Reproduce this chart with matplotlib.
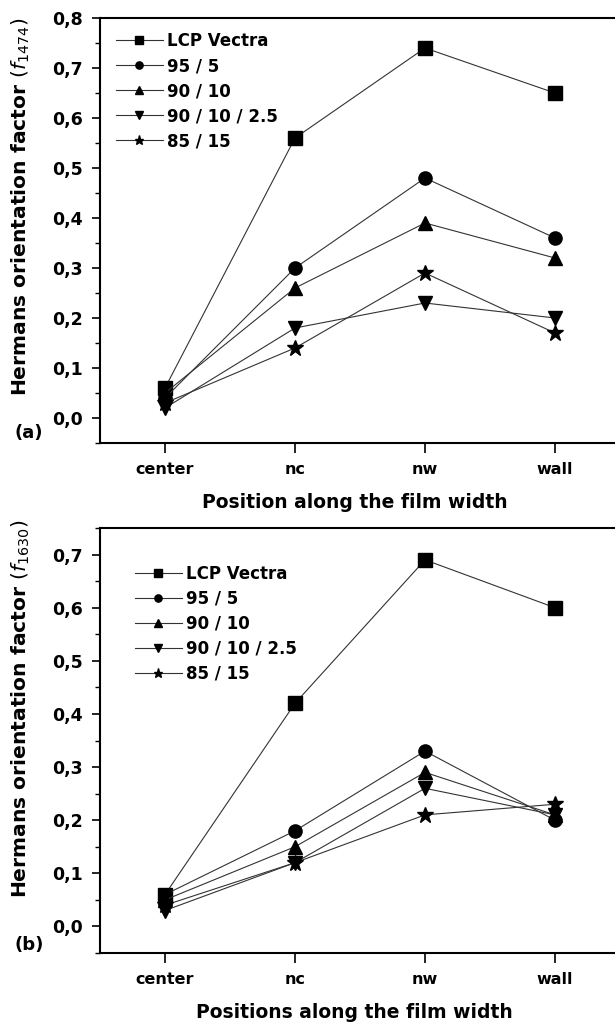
import matplotlib
matplotlib.use("Agg")
import matplotlib.pyplot as plt
from matplotlib.ticker import MultipleLocator, FuncFormatter

plt.rcParams['font.family'] = ['DejaVu Sans']
plt.rcParams['mathtext.fontset'] = 'dejavusans'

positions = ["center", "nc", "nw", "wall"]
series_names = ["LCP Vectra", "95 / 5", "90 / 10", "90 / 10 / 2.5", "85 / 15"]
markers = ["s", "o", "^", "v", "*"]

# Panel (a): f1474
a_lcp = [0.06, 0.56, 0.74, 0.65]
a_95_5 = [0.04, 0.30, 0.48, 0.36]
a_90_10 = [0.05, 0.26, 0.39, 0.32]
a_90_10_25 = [0.02, 0.18, 0.23, 0.20]
a_85_15 = [0.03, 0.14, 0.29, 0.17]

# Panel (b): f1630
b_lcp = [0.06, 0.42, 0.69, 0.60]
b_95_5 = [0.06, 0.18, 0.33, 0.20]
b_90_10 = [0.05, 0.15, 0.29, 0.21]
b_90_10_25 = [0.03, 0.12, 0.26, 0.21]
b_85_15 = [0.04, 0.12, 0.21, 0.23]

W, H = 615, 1027
fig = plt.figure(figsize=(W / 100, H / 100), dpi=100)

x = list(range(1, len(positions) + 1))

def px_axes(left, top, right, bottom):
    return fig.add_axes([left / W, 1 - bottom / H, (right - left) / W, (bottom - top) / H])

comma = FuncFormatter(lambda v, p: f"{v:.1f}".replace(".", ","))

def make_panel(ax, data, ylim, sub, xlabel, label_y, legend_anchor, tag, tag_y):
    for vals, name, m in zip(data, series_names, markers):
        ms = 9.5
        if m == "*":
            ms = 12
        elif m in ("^", "v"):
            ms = 10.5
        ax.plot(x, vals, color="#333333", lw=0.8, marker=m, markersize=ms,
                markerfacecolor="black", markeredgecolor="black", label=name)
    ax.set_xlim(0.5, 4.5)
    ax.set_ylim(*ylim)
    ax.set_xticks(x)
    ax.set_xticklabels(positions)
    ax.yaxis.set_major_locator(MultipleLocator(0.1))
    ax.yaxis.set_minor_locator(MultipleLocator(0.05))
    ax.yaxis.set_major_formatter(comma)
    ax.tick_params(axis="x", which="major", direction="out", length=7, width=1.2,
                   labelsize=11.5, pad=7)
    ax.tick_params(axis="y", which="major", direction="out", length=6, width=1.2,
                   labelsize=12.5, pad=6.5)
    ax.tick_params(axis="y", which="minor", direction="out", length=3.5, width=1.0)
    for lab in ax.get_xticklabels() + ax.get_yticklabels():
        lab.set_fontweight("bold")
    for s in ax.spines.values():
        s.set_linewidth(1.5)
    ax.set_xlabel(xlabel, fontsize=13.5, fontweight="bold")
    ax.xaxis.set_label_coords(0.49, -0.118)
    ax.set_ylabel("Hermans orientation factor $(f_{" + sub + "})$", fontsize=14.6,
                  fontweight="bold")
    ax.yaxis.set_label_coords(-0.13, label_y)
    ax.legend(loc="upper left", bbox_to_anchor=legend_anchor, frameon=False,
              prop={"weight": "bold", "size": 12}, markerscale=0.55,
              handlelength=2.8, handletextpad=0.25, labelspacing=0.42,
              borderaxespad=0.0, borderpad=0.0)
    fig.text(14 / W, 1 - tag_y / H, tag, fontsize=13, fontweight="bold", va="center")

ax1 = px_axes(100, 18, 620, 443)
make_panel(ax1, [a_lcp, a_95_5, a_90_10, a_90_10_25, a_85_15], (-0.05, 0.8), "1474",
           "Position along the film width", 0.555, (0.031, 0.967), "(a)", 433)

ax2 = px_axes(100, 528, 620, 953)
make_panel(ax2, [b_lcp, b_95_5, b_90_10, b_90_10_25, b_85_15], (-0.05, 0.75), "1630",
           "Positions along the film width", 0.574, (0.067, 0.913), "(b)", 945)

fig.savefig("out.png", dpi=100)
